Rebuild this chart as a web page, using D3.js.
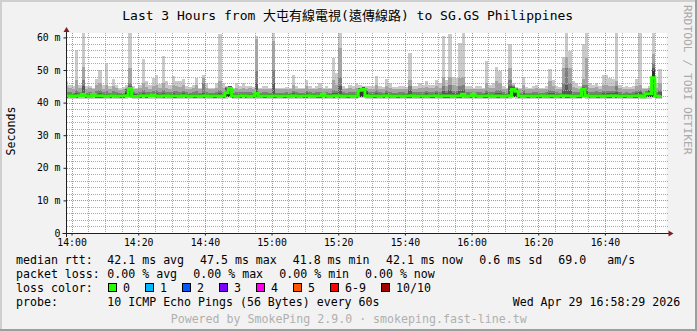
<!DOCTYPE html>
<html>
<head>
<meta charset="utf-8">
<title>SmokePing</title>
<script src="https://cdn.jsdelivr.net/npm/d3@7/dist/d3.min.js"></script>
<style>
  html, body { margin: 0; padding: 0; background: #f2f2f2; }
  svg { display: block; }
  text { font-family: "DejaVu Sans Mono", "Noto Sans CJK TC", monospace; }
</style>
</head>
<body>
<svg id="chart" width="697" height="331"></svg>
<script>
// values, in ms, one entry per 60 s step starting 13:58
const chartTitle = 'Last 3 Hours from 大屯有線電視(遠傳線路) to SG.GS Philippines';
const yTickValues = [0, 10, 20, 30, 40, 50, 60];
const timeLabels = ['14:00', '14:20', '14:40', '15:00', '15:20', '15:40', '16:00', '16:20', '16:40'];
const graphDay = '2026-04-29';
const windowStart = '13:58:29';
const windowEnd = '16:58:29';
const firstStep = '13:58:00';

const pingMin = [
  41.1,41.2,41.0,41.1,41.2,41.2,41.1,41.0,41.2,41.1,41.1,41.2,41.0,41.1,41.2,41.0,41.1,41.1,41.2,41.3,
  41.0,41.1,41.1,41.2,41.1,41.2,41.2,41.1,41.0,41.1,41.2,41.0,41.1,41.1,41.0,41.2,41.1,41.0,41.1,41.1,
  41.0,41.1,41.2,41.0,41.1,41.1,41.0,41.1,41.2,41.3,41.1,41.0,41.1,41.2,41.1,41.0,41.1,41.2,41.0,41.1,
  41.1,41.0,41.1,41.1,41.0,41.1,41.1,41.0,41.2,41.1,41.0,41.1,41.1,41.2,41.0,41.1,41.1,41.2,41.1,41.0,
  41.1,41.2,41.1,41.0,41.1,41.1,41.0,41.1,41.3,41.3,41.2,41.0,41.1,41.1,41.0,41.1,41.2,41.1,41.0,41.1,
  41.1,41.0,41.1,41.1,41.2,41.0,41.1,41.1,41.0,41.1,41.1,41.2,41.0,41.1,41.1,41.1,41.0,41.1,41.1,41.2,
  41.0,41.1,41.2,41.1,41.0,41.1,41.1,41.2,41.0,41.1,41.1,41.0,41.1,41.2,41.3,41.2,41.1,41.0,41.1,41.1,
  41.0,41.1,41.1,41.2,41.0,41.1,41.1,41.0,41.1,41.2,41.1,41.1,41.0,41.1,41.1,41.3,41.2,41.1,41.0,41.1,
  41.1,41.0,41.1,41.1,41.2,41.1,41.0,41.1,41.1,41.0,41.1,41.1,41.2,41.0,41.2,41.2,41.4,41.1,41.0
];
// pings 2..5 (lower inner edge of the smoke)
const pingLow = [
  41.5,41.6,41.4,41.5,41.6,41.6,41.5,41.4,41.6,41.5,41.5,41.5,41.4,41.5,41.6,41.4,41.5,41.5,41.6,41.7,
  41.4,41.4,41.5,41.6,41.5,41.6,41.6,41.5,41.4,41.5,41.6,41.4,41.5,41.5,41.4,41.6,41.5,41.4,41.5,41.5,
  41.4,41.5,41.6,41.4,41.5,41.5,41.4,41.5,41.6,41.7,41.5,41.4,41.5,41.6,41.5,41.4,41.5,41.6,41.4,41.5,
  41.5,41.4,41.5,41.5,41.4,41.5,41.5,41.4,41.6,41.5,41.4,41.5,41.5,41.6,41.4,41.5,41.5,41.6,41.5,41.4,
  41.5,41.6,41.5,41.4,41.5,41.5,41.4,41.5,41.7,41.7,41.6,41.4,41.5,41.5,41.4,41.5,41.6,41.5,41.4,41.5,
  41.5,41.4,41.5,41.5,41.6,41.4,41.5,41.5,41.4,41.5,41.5,41.6,41.4,41.5,41.5,41.5,41.4,41.5,41.5,41.6,
  41.4,41.5,41.6,41.5,41.4,41.5,41.5,41.6,41.4,41.5,41.5,41.4,41.5,41.6,41.7,41.6,41.5,41.4,41.5,41.5,
  41.4,41.5,41.5,41.6,41.4,41.5,41.5,41.4,41.5,41.6,41.5,41.5,41.4,41.5,41.5,41.7,41.6,41.5,41.4,41.5,
  41.5,41.4,41.5,41.5,41.6,41.5,41.4,41.5,41.5,41.4,41.5,41.5,41.6,41.4,41.6,41.6,41.8,41.5,41.4
];
const median = [
  42.0,42.1,41.9,42.0,42.1,42.6,42.0,41.9,42.5,42.0,42.1,42.0,41.9,42.0,42.1,41.9,42.0,42.0,42.1,44.3,
  41.9,41.9,42.0,42.1,42.0,42.1,42.3,42.0,41.9,42.0,42.1,41.9,42.0,42.0,41.9,42.1,42.0,41.9,42.0,42.0,
  41.9,42.0,42.1,41.9,42.0,42.0,41.9,42.0,43.0,44.3,42.0,41.9,42.0,42.1,42.0,41.9,42.0,42.8,41.9,42.0,
  42.0,41.9,42.0,42.0,41.9,42.0,42.0,41.9,42.1,42.0,41.9,42.0,42.0,42.1,41.9,42.0,42.0,42.6,42.0,41.9,
  42.0,42.1,42.0,41.9,42.0,42.0,41.9,42.0,43.8,44.0,42.1,41.9,42.0,42.0,41.9,42.0,42.1,42.0,41.9,42.0,
  42.0,41.9,42.0,42.0,42.1,41.9,42.0,42.0,41.9,42.0,42.0,42.1,41.9,42.0,42.0,42.0,41.9,42.0,42.0,42.6,
  41.9,42.0,42.6,42.0,41.9,42.0,42.0,42.1,41.9,42.0,42.0,41.9,42.0,42.1,44.0,43.5,42.0,41.9,42.0,42.0,
  41.9,42.0,42.0,42.1,41.9,42.0,42.0,41.9,42.0,42.1,42.0,42.0,41.9,42.0,42.0,44.1,42.1,42.0,41.9,42.0,
  42.0,41.9,42.0,42.0,42.1,42.0,41.9,42.0,42.0,41.9,42.0,42.0,42.1,41.8,42.7,42.7,47.6,42.0,41.9
];
const pingP6 = [
  42.4,42.5,42.3,42.4,42.5,43.0,42.4,42.3,42.9,42.4,42.5,42.4,42.3,42.4,42.5,42.3,42.4,42.4,43.0,44.6,
  42.3,42.3,42.4,42.5,42.4,42.5,42.7,42.4,42.3,42.4,42.5,42.3,42.4,42.4,42.3,42.5,42.4,42.3,42.4,42.4,
  42.3,42.4,42.5,42.3,42.4,42.4,42.3,42.4,43.5,44.6,42.4,42.3,42.4,42.5,42.4,42.3,42.4,43.3,42.3,42.4,
  42.4,42.3,42.4,42.4,42.3,42.4,42.4,42.3,42.5,42.4,42.3,42.4,42.4,42.5,42.3,42.4,42.4,43.0,42.4,42.3,
  42.4,42.5,42.4,42.3,42.4,42.4,42.3,42.4,44.2,44.3,43.0,42.3,42.4,42.4,42.3,42.4,42.5,42.4,42.3,42.4,
  42.4,42.3,42.4,42.4,42.5,42.3,42.4,42.4,42.3,42.4,42.4,42.5,42.3,42.4,42.4,42.4,42.3,42.4,42.4,43.0,
  42.3,42.4,43.0,42.4,42.3,42.4,42.4,42.5,42.3,42.4,42.4,42.3,42.4,42.5,44.3,43.8,42.4,42.3,42.4,42.4,
  42.3,42.4,42.4,42.5,42.3,42.4,42.4,42.3,42.4,42.5,42.4,42.4,42.3,42.4,42.4,44.4,42.5,42.4,42.3,42.4,
  42.4,42.3,42.4,42.4,42.5,42.4,42.3,42.4,42.4,42.3,42.4,42.4,42.5,42.2,43.1,43.2,50.0,42.4,42.3
];
const pingP7 = [
  42.7,42.6,42.5,42.8,42.6,45.0,42.5,42.6,42.9,42.7,42.9,42.6,42.7,42.5,42.7,42.6,42.5,42.5,44.2,45.0,
  42.6,42.5,42.6,42.9,42.6,42.6,42.8,42.9,42.5,43.0,42.6,42.5,42.8,42.7,42.6,42.8,42.6,42.5,42.6,42.7,
  42.5,43.0,42.6,42.5,42.5,42.6,42.9,42.6,44.5,45.0,42.5,42.6,42.6,42.6,42.6,42.5,42.5,46.0,42.5,42.6,
  42.6,42.5,46.0,42.5,42.5,42.5,42.6,42.5,42.8,42.6,42.5,42.5,42.8,42.6,42.5,42.6,42.6,43.0,42.6,42.5,
  43.0,42.8,45.0,42.6,42.5,42.6,42.5,42.6,44.5,44.8,44.0,42.5,42.6,43.0,42.5,42.5,42.9,42.6,42.5,42.5,
  42.6,42.5,42.5,43.8,42.6,42.5,42.6,42.6,42.8,42.6,42.6,42.8,42.6,43.6,42.8,43.8,42.8,42.8,43.6,43.8,
  42.5,42.6,43.0,42.6,42.5,42.5,43.0,42.6,42.6,43.0,42.9,42.6,42.5,45.0,44.8,44.2,42.5,42.9,42.5,42.5,
  42.5,42.6,42.5,42.6,42.5,43.0,42.8,42.5,42.5,44.0,45.5,44.0,42.6,42.6,42.6,44.8,44.0,42.6,42.5,42.7,
  42.6,42.8,42.8,42.8,42.8,43.3,42.6,42.5,42.6,42.5,42.6,42.8,43.1,42.5,43.2,43.8,50.5,42.6,43.1
];
const pingP8 = [
  43.3,43.1,43.0,44.0,43.1,47.0,43.0,43.1,42.9,43.5,44.0,43.1,43.5,43.0,43.5,43.1,42.9,43.0,44.0,46.0,
  43.1,42.9,43.3,44.0,43.3,43.1,43.5,43.8,43.1,44.0,43.3,43.1,43.5,43.5,43.3,43.5,43.1,42.9,43.2,43.5,
  42.9,46.0,43.3,42.9,43.0,43.3,44.0,43.2,44.8,44.8,43.0,43.3,43.1,43.3,43.1,43.1,43.0,49.7,42.9,43.1,
  43.1,42.9,50.0,43.0,42.9,43.0,43.1,42.9,43.5,43.1,42.9,43.0,43.5,43.1,42.9,43.1,43.3,43.0,43.1,42.9,
  44.0,43.5,47.8,43.1,42.9,43.3,43.1,43.3,44.6,44.8,44.0,43.1,43.1,44.0,43.1,43.0,43.8,43.3,43.0,43.0,
  43.1,43.1,43.0,45.0,43.1,43.1,43.3,43.2,43.5,43.3,43.3,43.5,43.3,45.0,43.5,45.5,43.5,43.5,45.0,45.5,
  43.1,43.1,42.9,43.1,43.1,42.9,44.0,43.3,43.3,44.0,43.8,43.1,42.9,47.0,45.0,44.5,42.9,43.8,43.0,42.9,
  43.1,43.3,42.9,42.9,43.1,44.0,43.5,43.1,43.0,46.0,50.7,46.0,43.3,43.3,43.1,45.5,45.5,43.3,43.2,43.5,
  43.1,43.5,43.5,43.5,43.5,45.0,43.2,43.0,43.1,43.0,43.1,43.5,44.0,42.9,43.6,44.0,52.0,43.3,44.0
];
const pingP9 = [
  45.0,44.6,44.3,46.8,44.5,51.0,44.3,44.4,44.2,45.5,46.0,44.3,45.5,44.3,45.0,44.4,44.0,44.2,44.6,50.5,
  44.3,44.1,44.6,46.0,44.8,44.3,45.0,45.5,44.5,46.0,44.6,44.3,45.4,45.0,44.8,45.5,44.3,44.1,44.5,45.5,
  44.1,47.5,44.6,44.1,44.2,44.6,46.5,44.5,44.8,45.0,44.2,44.6,44.3,44.6,44.3,44.4,44.2,59.5,44.1,44.3,
  44.3,44.1,59.0,44.2,44.1,44.2,44.3,44.1,45.5,44.3,44.1,44.2,45.0,44.3,44.1,44.3,44.6,44.2,44.3,44.1,
  47.0,45.5,56.8,44.3,44.1,44.5,44.3,44.6,44.6,44.8,44.5,44.3,44.3,45.5,44.3,44.2,45.0,44.6,44.2,44.2,
  44.3,44.3,44.2,47.0,44.3,44.3,44.6,44.4,44.8,44.5,44.5,45.0,44.6,47.8,45.0,47.8,45.5,45.0,47.5,47.8,
  44.3,44.3,44.1,44.3,44.3,44.1,46.0,44.5,44.6,46.5,46.0,44.3,44.1,50.7,45.5,44.6,44.1,45.5,44.2,44.1,
  44.3,44.6,44.1,44.1,44.3,46.5,45.0,44.3,44.2,50.7,54.0,50.7,44.8,44.6,44.3,47.3,53.8,44.6,44.4,44.8,
  44.3,45.5,45.5,45.0,45.0,46.5,44.4,44.2,44.3,44.2,44.3,45.0,45.5,44.1,44.3,44.6,55.0,44.6,46.0
];
const pingMax = [
  46.5,45.5,45.0,56.2,45.5,61.5,45.0,45.0,44.5,47.1,50.1,45.5,52.3,45.0,47.3,45.5,44.5,44.8,45.5,61.5,
  45.0,44.5,45.5,53.3,46.5,45.5,47.6,48.6,45.8,54.4,46.5,45.5,48.2,46.5,46.5,47.3,45.0,44.8,45.5,47.5,
  44.5,48.6,46.0,44.5,44.5,46.0,61.0,46.0,45.0,45.0,44.5,46.0,45.0,46.0,45.0,45.0,44.8,60.3,44.5,45.0,
  45.0,44.5,61.5,44.5,44.5,44.5,44.8,44.5,48.6,45.0,44.5,44.5,46.8,45.0,44.5,45.0,46.0,44.5,45.0,44.5,
  53.7,49.0,61.5,45.0,44.5,45.5,45.0,46.0,45.5,45.0,45.0,45.0,45.0,48.3,45.0,44.8,47.3,46.0,44.8,44.8,
  45.0,45.0,44.8,55.1,45.0,45.0,46.0,45.5,46.5,45.5,45.5,47.0,46.0,60.5,47.0,60.9,48.0,47.5,58.2,61.5,
  45.0,45.0,44.5,45.0,45.0,44.5,52.8,45.5,46.0,50.9,49.7,45.0,44.5,57.9,46.0,44.8,44.5,47.8,44.8,44.5,
  45.0,45.4,44.5,44.5,45.0,50.2,47.0,45.0,44.8,54.0,61.4,55.8,46.5,46.0,45.0,57.9,61.5,46.0,45.5,46.1,
  45.0,48.4,48.5,47.6,47.3,61.3,45.5,44.8,45.0,44.8,45.0,47.1,61.4,44.5,44.5,45.0,61.5,46.0,50.2
];

const rttStats = ['42.1 ms avg', '47.5 ms max', '41.8 ms min', '42.1 ms now', '0.6 ms sd', '69.0', 'am/s'];
const lossStats = ['0.00 % avg', '0.00 % max', '0.00 % min', '0.00 % now'];
const lossLabels = ['0', '1', '2', '3', '4', '5', '6-9', '10/10'];
const lossColors = ['#26ff00', '#00b8ff', '#0059ff', '#7e00ff', '#ff00ea', '#ff5500', '#ff0000', '#a10000'];
const probeText = '10 ICMP Echo Pings (56 Bytes) every 60s';
const stampText = 'Wed Apr 29 16:58:29 2026';
const footerText = 'Powered by SmokePing 2.9.0 · smokeping.fast-line.tw';

// ---------------------------------------------------------------
const W = 697, H = 331;
const X0 = 66.5, X1 = 666.5, Y0 = 233, Y1 = 33;
const parseTime = d3.utcParse('%Y-%m-%d %H:%M:%S');
const t0 = parseTime(graphDay + ' ' + windowStart);
const t1 = parseTime(graphDay + ' ' + windowEnd);
const tFirst = parseTime(graphDay + ' ' + firstStep);

const x = d3.scaleUtc().domain([t0, t1]).range([X0, X1]);
const y = d3.scaleLinear().domain([0, 61.35]).range([Y0, Y1]);

const n = d3.min([pingMin, pingLow, median, pingP6, pingP7, pingP8, pingP9, pingMax], a => a.length);
const rows = d3.range(n).map(i => ({
  t: d3.utcMinute.offset(tFirst, i),
  p1: pingMin[i], lo: pingLow[i], med: median[i],
  p6: pingP6[i], p7: pingP7[i], p8: pingP8[i], p9: pingP9[i], p10: pingMax[i]
}));
// closing point so the last step gets its full width
rows.push(Object.assign({}, rows[n - 1], { t: d3.utcMinute.offset(tFirst, n) }));

const svg = d3.select('#chart');

// background + rrdtool style frame
svg.append('rect').attr('width', W).attr('height', H).attr('fill', '#f2f2f2');
svg.append('rect').attr('x', 0).attr('y', 0).attr('width', W).attr('height', 2).attr('fill', '#cfcfcf');
svg.append('rect').attr('x', 0).attr('y', 0).attr('width', 2).attr('height', H).attr('fill', '#cfcfcf');
svg.append('rect').attr('x', 0).attr('y', H - 2).attr('width', W).attr('height', 2).attr('fill', '#9e9e9e');
svg.append('rect').attr('x', W - 2).attr('y', 0).attr('width', 2).attr('height', H).attr('fill', '#9e9e9e');

// canvas
svg.append('rect').attr('x', X0).attr('y', Y1).attr('width', X1 - X0).attr('height', Y0 - Y1).attr('fill', '#ffffff');
svg.append('clipPath').attr('id', 'plot')
  .append('rect').attr('x', X0).attr('y', Y1).attr('width', X1 - X0).attr('height', Y0 - Y1);

// smoke: outer pair of pings lightest, inner pairs darker
const bands = [
  { lo: 'p1', hi: 'p10', color: '#cacaca' },
  { lo: 'lo', hi: 'p9', color: '#a4a4a4' },
  { lo: 'lo', hi: 'p8', color: '#7e7e7e' },
  { lo: 'lo', hi: 'p7', color: '#585858' },
  { lo: 'lo', hi: 'p6', color: '#323232' }
];
const smoke = svg.append('g').attr('clip-path', 'url(#plot)').attr('shape-rendering', 'crispEdges');
bands.forEach(b => {
  const area = d3.area()
    .curve(d3.curveStepAfter)
    .x(d => x(d.t))
    .y0(d => y(d[b.lo]))
    .y1(d => y(d[b.hi]));
  smoke.append('path').datum(rows).attr('d', area).attr('fill', b.color);
});

// grid, drawn as single-pixel dots (1 on / 1 off) like rrdtool
const majorTimes = timeLabels.map(s => parseTime(graphDay + ' ' + s + ':00'));
const minorTimes = d3.utcMinute.every(5).range(t0, t1).filter(t => t.getUTCMinutes() % 20 !== 0);
const minorVals = d3.range(2, 61.35, 2).filter(v => v % 10 !== 0);
const minorCol = '#ababab', majorCol = '#e37a7a';

function dotPath(cols, rowsPx) {
  let d = '';
  cols.forEach(px => {
    for (let py = Y1; py < Y0; py += 2) d += `M${px},${py}h1v1h-1z`;
  });
  rowsPx.forEach(py => {
    for (let px = 67; px < X1 + 2; px += 2) d += `M${px},${py}h1v1h-1z`;
  });
  return d;
}
const grid = svg.append('g').attr('shape-rendering', 'crispEdges');
grid.append('path')
  .attr('d', dotPath(minorTimes.map(t => Math.round(x(t))), minorVals.map(v => Math.round(y(v)))))
  .attr('fill', minorCol);
grid.append('path')
  .attr('d', dotPath(majorTimes.map(t => Math.round(x(t))), yTickValues.filter(v => v > 0).map(v => Math.round(y(v)))))
  .attr('fill', majorCol);

// median line coloured by loss (0 loss everywhere)
const medLine = d3.line()
  .curve(d3.curveStepAfter)
  .x(d => x(d.t))
  .y(d => y(d.med));
svg.append('g').attr('clip-path', 'url(#plot)')
  .append('path').datum(rows).attr('d', medLine)
  .attr('fill', 'none').attr('stroke', lossColors[0]).attr('stroke-width', 3);

// axes
const axisCol = '#1f1f1f', arrowCol = '#801f1f';
svg.append('line').attr('x1', X0 - 4).attr('x2', X1 + 4).attr('y1', Y0 + 0.5).attr('y2', Y0 + 0.5)
  .attr('stroke', axisCol);
svg.append('line').attr('x1', X0).attr('x2', X0).attr('y1', Y0 + 4).attr('y2', Y1 - 3)
  .attr('stroke', axisCol);
svg.append('path').attr('d', `M${X1 + 2},${Y0 - 2.5}L${X1 + 7},${Y0 + 0.5}L${X1 + 2},${Y0 + 3.5}Z`).attr('fill', arrowCol);
svg.append('path').attr('d', `M${X0 - 3},${Y1 - 1}L${X0},${Y1 - 6}L${X0 + 3},${Y1 - 1}Z`).attr('fill', arrowCol);

const yAxis = d3.axisLeft(y)
  .tickValues(yTickValues)
  .tickSize(3)
  .tickPadding(3)
  .tickFormat(d => d === 0 ? '0' : d + ' m');
svg.append('g').attr('transform', `translate(${X0},0)`).call(yAxis)
  .call(g => g.select('.domain').remove())
  .call(g => g.selectAll('line').attr('stroke', axisCol))
  .call(g => g.selectAll('text').attr('font-family', '"DejaVu Sans Mono", monospace').attr('font-size', '9.8px').attr('fill', '#000'));

const xAxis = d3.axisBottom(x)
  .tickValues(majorTimes)
  .tickSize(2)
  .tickPadding(3.5)
  .tickFormat(d3.utcFormat('%H:%M'));
svg.append('g').attr('transform', `translate(0,${Y0 + 0.5})`).call(xAxis)
  .call(g => g.select('.domain').remove())
  .call(g => g.selectAll('line').attr('stroke', axisCol))
  .call(g => g.selectAll('text').attr('font-family', '"DejaVu Sans Mono", monospace').attr('font-size', '9.8px').attr('fill', '#000'));

// titles
svg.append('text').attr('x', 347.7).attr('y', 15).attr('dy', '0.35em')
  .attr('text-anchor', 'middle').attr('font-size', '13px').text(chartTitle);
svg.append('text').attr('transform', 'translate(10.5,131) rotate(-90)').attr('dy', '0.35em')
  .attr('text-anchor', 'middle').attr('font-size', '11.6px').text('Seconds');
svg.append('text').attr('transform', 'translate(687.5,5) rotate(90)').attr('dy', '0.35em')
  .attr('text-anchor', 'start').attr('font-size', '11.3px').attr('fill', '#ababab')
  .text('RRDTOOL / TOBI OETIKER');

// legend
const legend = svg.append('g').attr('font-size', '11.6px');
const rowY = [259.5, 273.5, 287.5, 301.5];
['median rtt:', 'packet loss:', 'loss color:', 'probe:'].forEach((s, i) =>
  legend.append('text').attr('x', 16).attr('y', rowY[i]).attr('dy', '0.35em').text(s));

const rttX = [107.3, 200, 292.7, 386, 479.3, 558.3, 607.3];
legend.selectAll('.rtt').data(rttStats).enter().append('text')
  .attr('x', (d, i) => rttX[i]).attr('y', rowY[0]).attr('dy', '0.35em').text(d => d);

const lossX = [107.3, 193.3, 279.3, 365];
legend.selectAll('.loss').data(lossStats).enter().append('text')
  .attr('x', (d, i) => lossX[i]).attr('y', rowY[1]).attr('dy', '0.35em').text(d => d);

const boxX = [108.5, 145.5, 182.5, 219.5, 256.5, 293.5, 330.5, 381.5];
const keys = legend.selectAll('.key').data(lossLabels).enter().append('g');
keys.append('rect')
  .attr('x', (d, i) => boxX[i]).attr('y', rowY[2] - 4)
  .attr('width', 8).attr('height', 8)
  .attr('fill', (d, i) => lossColors[i]).attr('stroke', '#000').attr('stroke-width', 1);
keys.append('text')
  .attr('x', (d, i) => boxX[i] + 14.5).attr('y', rowY[2]).attr('dy', '0.35em').text(d => d);

legend.append('text').attr('x', 107.3).attr('y', rowY[3]).attr('dy', '0.35em').text(probeText);
legend.append('text').attr('x', 512.7).attr('y', rowY[3]).attr('dy', '0.35em').text(stampText);

svg.append('text').attr('x', 348.7).attr('y', 318.7).attr('dy', '0.35em')
  .attr('text-anchor', 'middle').attr('font-size', '11.6px').attr('fill', '#b0b0b0')
  .text(footerText);
</script>
</body>
</html>
